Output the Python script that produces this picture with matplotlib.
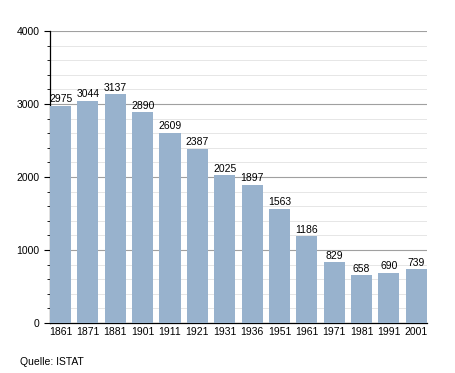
import matplotlib
matplotlib.use("Agg")
import matplotlib.pyplot as plt
from matplotlib.ticker import MultipleLocator

years = ["1861", "1871", "1881", "1901", "1911", "1921", "1931",
         "1936", "1951", "1961", "1971", "1981", "1991", "2001"]
population = [2975, 3044, 3137, 2890, 2609, 2387, 2025,
              1897, 1563, 1186, 829, 658, 690, 739]

plt.rcParams["font.family"] = ["Liberation Sans", "DejaVu Sans"]

fig = plt.figure(figsize=(4.55, 3.73), dpi=100)
ax = fig.add_axes([0.110, 0.134, 0.828, 0.783])

w = 0.77
x = list(range(len(years)))
bars = ax.bar(x, population, width=w, color="#98b2cd", zorder=3)

# Werte über den Balken
for xi, v in zip(x, population):
    ax.text(xi, v + 20, str(v), ha="center", va="bottom", fontsize=7.5, zorder=4)

ax.set_xlim(-w / 2, len(years) - 1 + w / 2)
ax.set_ylim(0, 4000)
ax.set_xticks(x)
ax.set_xticklabels(years, fontsize=7.5)
ax.yaxis.set_major_locator(MultipleLocator(1000))
ax.yaxis.set_minor_locator(MultipleLocator(200))
ax.tick_params(axis="y", labelsize=7.5, length=4, width=0.8)
ax.tick_params(axis="y", which="minor", length=2.5, width=0.6)
ax.tick_params(axis="x", length=0, pad=3)

ax.grid(axis="y", which="major", color="#a0a0a0", linewidth=0.8, zorder=1)
ax.grid(axis="y", which="minor", color="#e2e2e2", linewidth=0.6, zorder=1)

for s in ["top", "right"]:
    ax.spines[s].set_visible(False)
ax.spines["left"].set_linewidth(0.9)
ax.spines["bottom"].set_linewidth(0.9)

fig.text(20 / 455, 1 - 362 / 373, "Quelle: ISTAT", fontsize=7.5, va="center", ha="left")

fig.savefig("out.png", dpi=100)
